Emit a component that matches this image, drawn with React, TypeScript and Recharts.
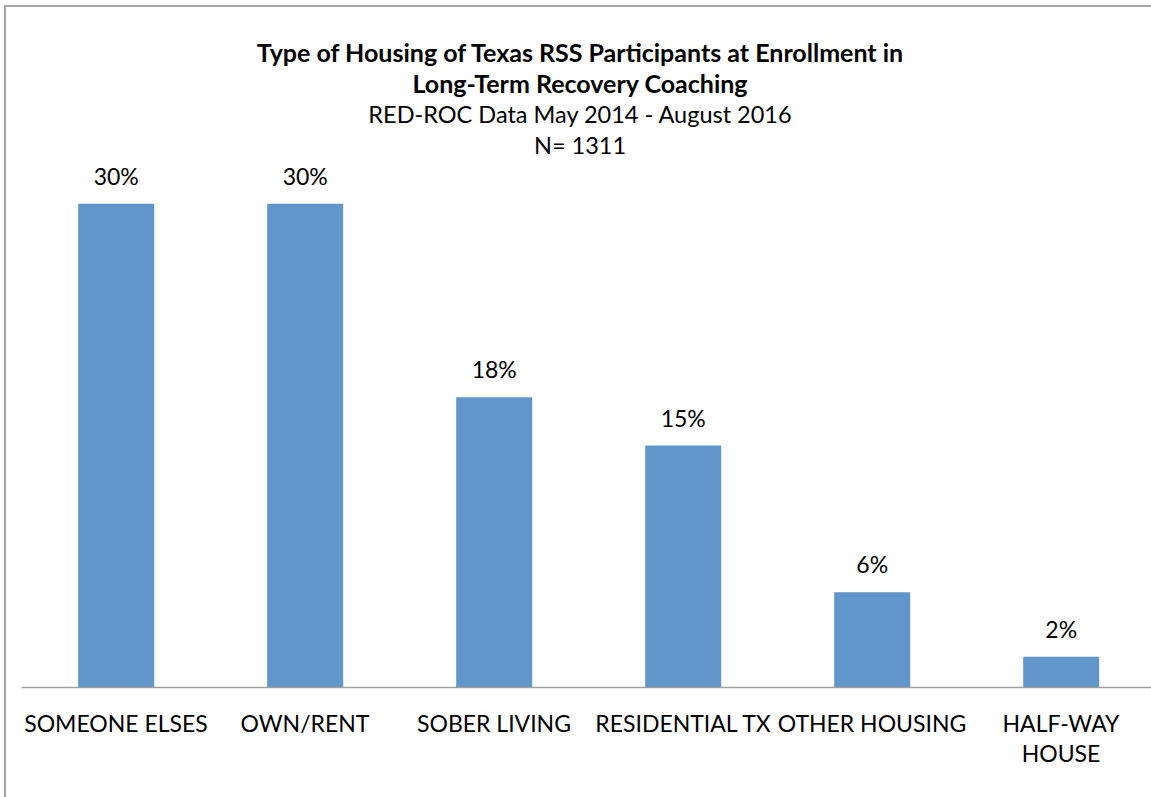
import React from "react";
import { BarChart, Bar, XAxis, YAxis, LabelList } from "recharts";

const categories = [
  "SOMEONE ELSES",
  "OWN/RENT",
  "SOBER LIVING",
  "RESIDENTIAL TX",
  "OTHER HOUSING",
  "HALF-WAY HOUSE",
];
const percentValues = [30.0, 30.0, 18.0, 15.0, 5.9, 1.9];
const valueLabels = ["30%", "30%", "18%", "15%", "6%", "2%"];
const tickLines: string[][] = [
  ["SOMEONE ELSES"],
  ["OWN/RENT"],
  ["SOBER LIVING"],
  ["RESIDENTIAL TX"],
  ["OTHER HOUSING"],
  ["HALF-WAY", "HOUSE"],
];
const titleLines = [
  "Type of Housing of Texas RSS Participants at Enrollment in",
  "Long-Term Recovery Coaching",
];
const subtitleLines = ["RED-ROC Data May 2014 - August 2016", "N= 1311"];

const data = categories.map((c, i) => ({
  name: c,
  value: percentValues[i],
  label: valueLabels[i],
}));

const FONT = "Lato, 'Open Sans', sans-serif";

const Tick = (props: any) => {
  const { x, y, index } = props;
  const lines = tickLines[index] || [String(props.payload?.value)];
  return (
    <g>
      {lines.map((ln, i) => (
        <text
          key={i}
          x={x}
          y={y + 44.5 + i * 30}
          textAnchor="middle"
          fontFamily={FONT}
          fontSize={23}
          fill="#000"
        >
          {ln}
        </text>
      ))}
    </g>
  );
};

export default function App() {
  return (
    <div
      style={{
        position: "absolute",
        left: 0,
        top: 0,
        width: 1151,
        height: 797,
        overflow: "hidden",
        background: "#fff",
      }}
    >
      <div
        style={{
          position: "absolute",
          left: 4,
          top: 5,
          width: 1160,
          height: 820,
          border: "2px solid #a6a6a6",
          boxSizing: "border-box",
        }}
      />
      <div style={{ position: "absolute", left: 0, top: 0 }}>
        <BarChart
          width={1170}
          height={797}
          data={data}
          margin={{ top: 123, left: 21.5, right: 14.5, bottom: 79.5 }}
          barCategoryGap="30%"
        >
          <YAxis hide domain={[0, 35]} />
          <XAxis
            dataKey="name"
            axisLine={{ stroke: "#a0a0a0", strokeWidth: 1.5 }}
            tickLine={false}
            tickSize={0}
            tickMargin={0}
            interval={0}
            tick={<Tick />}
          />
          <Bar dataKey="value" fill="#6096C9" isAnimationActive={false}>
            <LabelList
              dataKey="label"
              position="top"
              offset={19}
              fontFamily={FONT}
              fontSize={23}
              fill="#000"
            />
          </Bar>
        </BarChart>
      </div>
      <div
        style={{
          position: "absolute",
          left: 0,
          width: 1160,
          top: 37,
          textAlign: "center",
          fontFamily: FONT,
          color: "#000",
        }}
      >
        {titleLines.map((t, i) => (
          <div
            key={"t" + i}
            style={{ fontWeight: 700, fontSize: 25, lineHeight: "31px", height: 31, whiteSpace: "nowrap" }}
          >
            {t}
          </div>
        ))}
        {subtitleLines.map((t, i) => (
          <div
            key={"s" + i}
            style={{ fontWeight: 400, fontSize: 23.5, lineHeight: "31px", height: 31, whiteSpace: "nowrap" }}
          >
            {t}
          </div>
        ))}
      </div>
    </div>
  );
}
